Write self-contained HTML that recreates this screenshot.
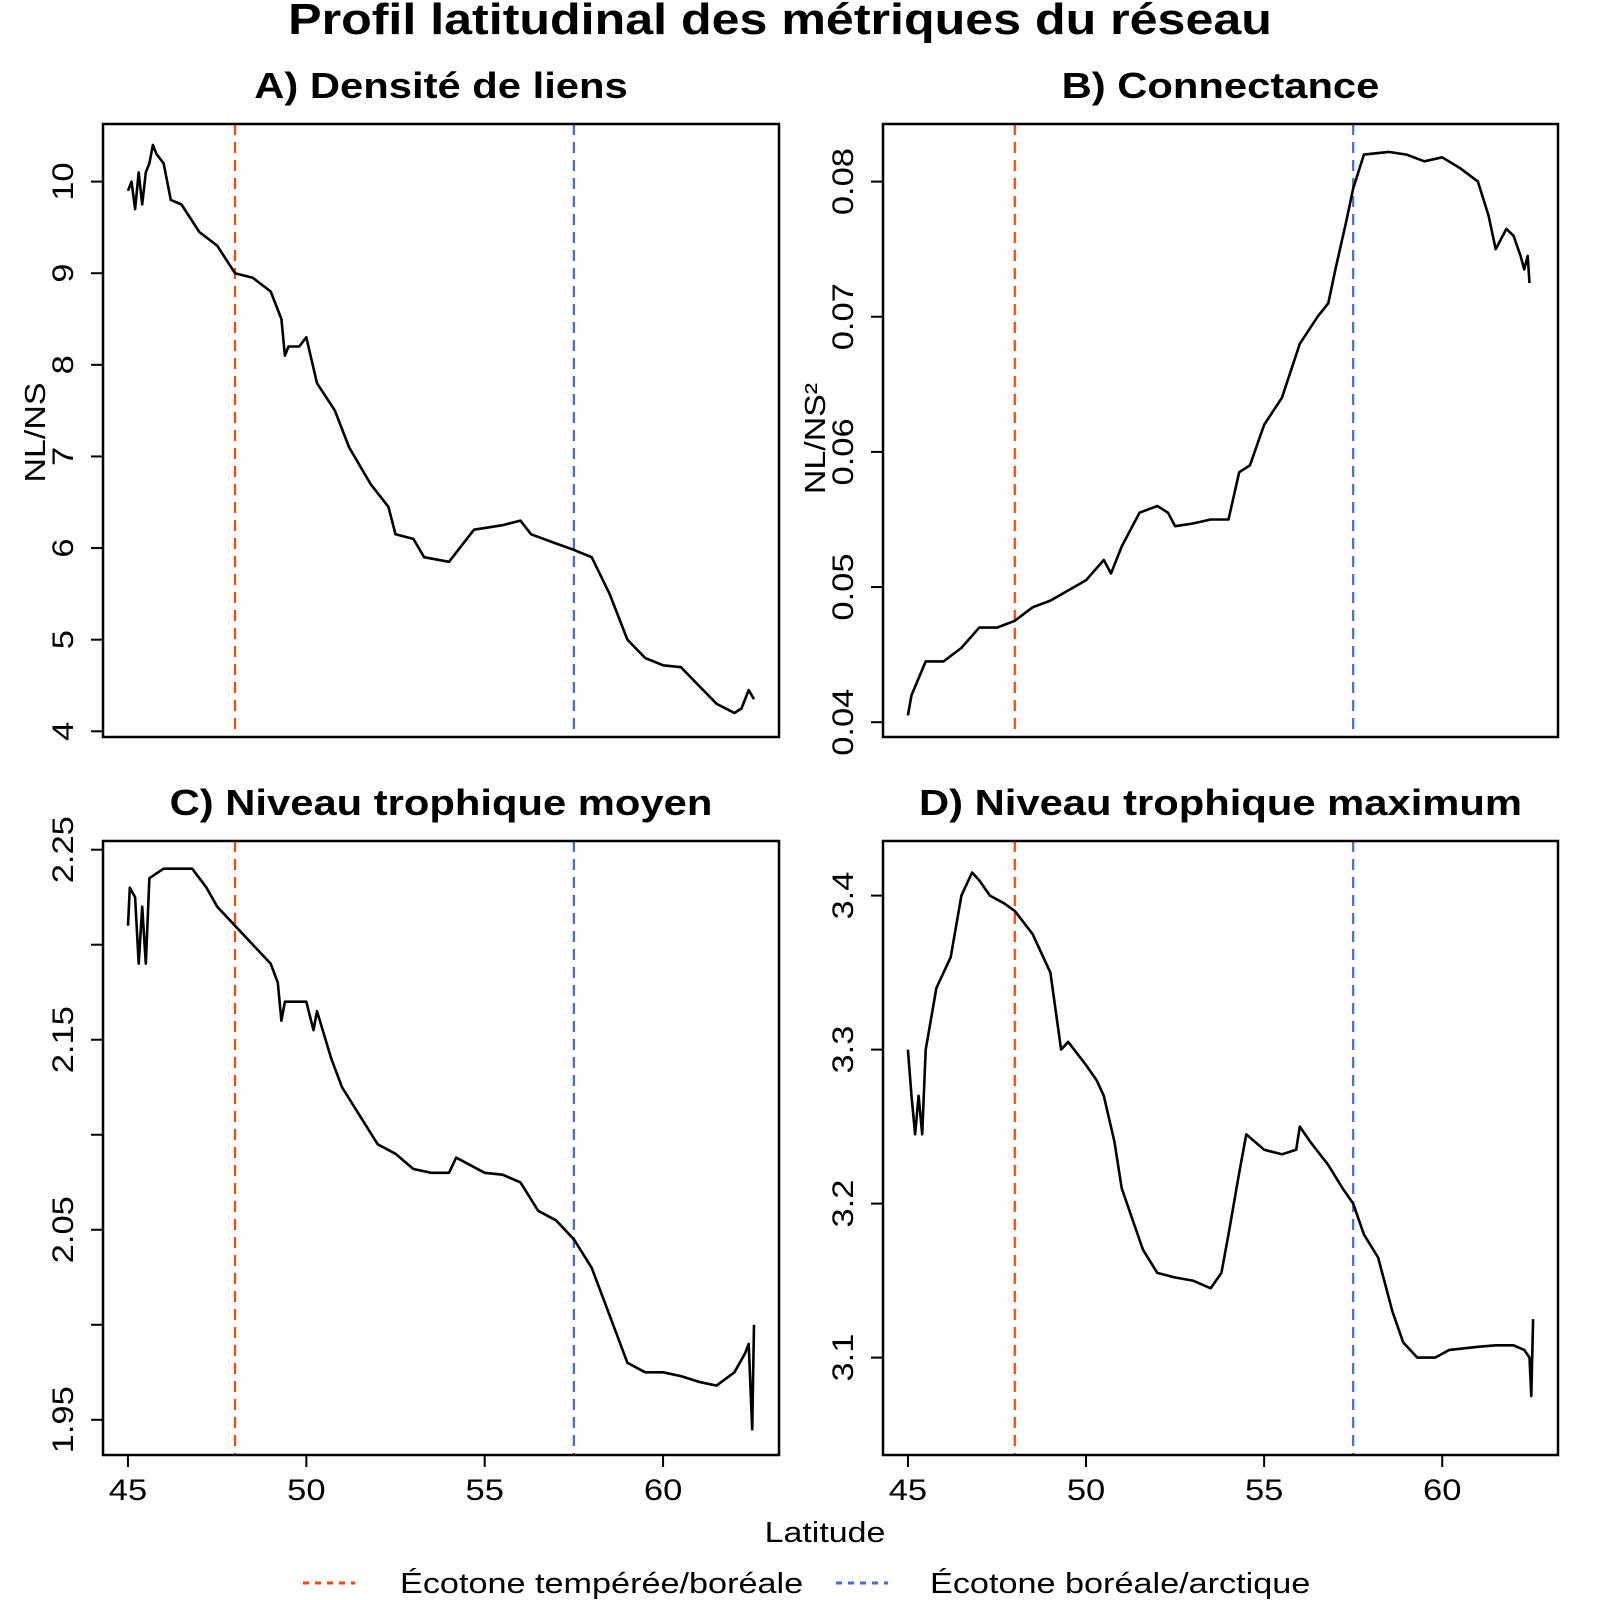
<!DOCTYPE html>
<html><head><meta charset="utf-8"><style>
body{margin:0;background:#fff}
svg{display:block;font-family:"Liberation Sans",Arial,sans-serif}
</style></head><body>
<svg id="c" width="1600" height="1600" viewBox="0 0 1600 1600">
<text x="0" y="0" transform="translate(780,34) scale(1.14,1)" text-anchor="middle" font-size="44" font-weight="bold">Profil latitudinal des métriques du réseau</text>
<text x="0" y="0" transform="translate(825,1542) scale(1.17,1)" text-anchor="middle" font-size="29">Latitude</text>
<g>
<line x1="303" y1="1583" x2="355" y2="1583" stroke="#FF4500" stroke-width="3" stroke-dasharray="6,6"/>
<text x="0" y="0" transform="translate(400,1593) scale(1.18,1)" font-size="29">Écotone tempérée/boréale</text>
<line x1="836" y1="1583" x2="888" y2="1583" stroke="#4169E1" stroke-width="3" stroke-dasharray="6,6"/>
<text x="0" y="0" transform="translate(930,1593) scale(1.18,1)" font-size="29">Écotone boréale/arctique</text>
</g>
</svg>
<script>
const latA=[45.0,45.1,45.2,45.3,45.4,45.5,45.6,45.7,45.8,46.0,46.2,46.5,47.0,47.5,48.0,48.5,49.0,49.3,49.4,49.5,49.8,50.0,50.3,50.8,51.2,51.8,52.3,52.5,53.0,53.3,54.0,54.3,54.7,55.5,56.0,56.3,57.0,57.5,58.0,58.5,59.0,59.5,60.0,60.5,61.0,61.5,62.0,62.2,62.4,62.55];
const valA=[9.9,10.0,9.7,10.1,9.75,10.1,10.2,10.4,10.3,10.2,9.8,9.75,9.45,9.3,9.0,8.95,8.8,8.5,8.1,8.2,8.2,8.3,7.8,7.5,7.1,6.7,6.45,6.15,6.1,5.9,5.85,6.0,6.2,6.25,6.3,6.15,6.05,5.98,5.9,5.5,5.0,4.8,4.72,4.7,4.5,4.3,4.2,4.25,4.45,4.35];
const latB=[45.0,45.1,45.5,46.0,46.5,47.0,47.5,48.0,48.5,49.0,50.0,50.5,50.7,51.0,51.5,52.0,52.3,52.5,53.0,53.5,54.0,54.3,54.6,55.0,55.5,56.0,56.5,56.8,57.0,57.3,57.5,57.8,58.5,59.0,59.5,60.0,60.5,61.0,61.3,61.5,61.8,62.0,62.2,62.3,62.4,62.45];
const valB=[0.0405,0.042,0.0445,0.0445,0.0455,0.047,0.047,0.0475,0.0485,0.049,0.0505,0.052,0.051,0.053,0.0555,0.056,0.0555,0.0545,0.0547,0.055,0.055,0.0585,0.059,0.062,0.064,0.068,0.070,0.071,0.0735,0.077,0.0795,0.082,0.0822,0.082,0.0815,0.0818,0.081,0.080,0.0775,0.075,0.0765,0.076,0.0745,0.0735,0.0745,0.0725];
const latC=[45.0,45.05,45.2,45.3,45.4,45.5,45.6,46.0,46.5,46.8,47.2,47.5,48.0,48.5,49.0,49.2,49.3,49.4,50.0,50.2,50.3,50.7,51.0,51.5,52.0,52.5,53.0,53.5,54.0,54.2,54.5,55.0,55.5,56.0,56.5,57.0,57.5,58.0,58.5,59.0,59.5,60.0,60.5,61.0,61.5,62.0,62.3,62.4,62.5,62.55];
const valC=[2.21,2.23,2.225,2.19,2.22,2.19,2.235,2.24,2.24,2.24,2.23,2.22,2.21,2.20,2.19,2.18,2.16,2.17,2.17,2.155,2.165,2.14,2.125,2.11,2.095,2.09,2.082,2.08,2.08,2.088,2.085,2.08,2.079,2.075,2.06,2.055,2.045,2.03,2.005,1.98,1.975,1.975,1.973,1.97,1.968,1.975,1.985,1.99,1.945,2.0];
const latD=[45.0,45.1,45.2,45.3,45.4,45.5,45.8,46.2,46.5,46.8,47.0,47.3,47.7,48.0,48.5,49.0,49.3,49.5,50.0,50.3,50.5,50.8,51.0,51.3,51.6,52.0,52.5,53.0,53.5,53.8,54.0,54.3,54.5,55.0,55.5,55.9,56.0,56.3,56.8,57.2,57.5,57.8,58.2,58.6,58.9,59.3,59.8,60.2,61.0,61.5,62.0,62.3,62.45,62.5,62.55];
const valD=[3.30,3.27,3.245,3.27,3.245,3.30,3.34,3.36,3.40,3.415,3.41,3.40,3.395,3.39,3.375,3.35,3.30,3.305,3.29,3.28,3.27,3.24,3.21,3.19,3.17,3.155,3.152,3.15,3.145,3.155,3.18,3.22,3.245,3.235,3.232,3.235,3.25,3.24,3.225,3.21,3.20,3.18,3.165,3.13,3.11,3.10,3.10,3.105,3.107,3.108,3.108,3.105,3.10,3.075,3.125];
const xTicks=[45,50,55,60];
const ecotones=[48,57.5];
const ticksA=[4,5,6,7,8,9,10];
const ticksB=[0.04,0.05,0.06,0.07,0.08];
const ticksC=[1.95,2.0,2.05,2.1,2.15,2.2,2.25];
const labelsC=["1.95","","2.05","","2.15","","2.25"];
const ticksD=[3.1,3.2,3.3,3.4];

const NS="http://www.w3.org/2000/svg";
const svg=document.getElementById('c');
function mk(tag,attrs,parent){const e=document.createElementNS(NS,tag);for(const k in attrs)e.setAttribute(k,attrs[k]);(parent||svg).appendChild(e);return e;}

function panel(p){
  const g=mk('g',{});
  
  
  const xs=v=>p.x0+(v-44.3)/(63.25-44.3)*(p.x1-p.x0);
  const ys=v=>p.ya+(v-p.va)/(p.vb-p.va)*(p.yb-p.ya);
  const t=mk('text',{x:0,y:0,transform:`translate(${(p.x0+p.x1)/2},${p.y0-26}) scale(1.16,1)`,'text-anchor':'middle','font-size':36,'font-weight':'bold'},g);
  t.textContent=p.title;
  
  
  ecotones.forEach((e,i)=>{
    const l=mk('line',{x1:xs(e),x2:xs(e),y1:p.y0,y2:p.y1,stroke:i?'#4169E1':'#FF4500','stroke-width':2.2,'stroke-dasharray':'11,7'},g);
    
    
  });
  const d=p.lat.map((v,i)=>(i?'L':'M')+xs(v).toFixed(1)+','+ys(p.val[i]).toFixed(1)).join('');
  const path=mk('path',{d:d,fill:'none',stroke:'#000','stroke-width':2.6,'stroke-linejoin':'round'},g);
  
  
  const box=mk('rect',{x:p.x0,y:p.y0,width:p.x1-p.x0,height:p.y1-p.y0,fill:'none',stroke:'#000','stroke-width':2.5},g);
  
  
  p.ticks.forEach((tv,i)=>{
    const y=ys(tv);
    const tk=mk('line',{x1:p.x0-12,x2:p.x0,y1:y,y2:y,stroke:'#000','stroke-width':2},g);
    
    
    const lab=p.labels?p.labels[i]:String(tv);
    if(lab){
      const tx=mk('text',{x:0,y:0,'text-anchor':'middle','font-size':30,transform:`translate(${p.x0-30},${y}) rotate(-90) scale(1.15,1)`},g);
      tx.textContent=lab;
      
      
    }
  });
  if(p.ylab){
    const yl=mk('text',{x:0,y:0,'text-anchor':'middle','font-size':29,transform:`translate(${p.x0-58},${(p.y0+p.y1)/2+p.yoff}) rotate(-90) scale(1.17,1)`},g);
    yl.textContent=p.ylab;
    
    
  }
  if(p.xaxis){
    xTicks.forEach(v=>{
      const tk=mk('line',{x1:xs(v),x2:xs(v),y1:p.y1,y2:p.y1+12,stroke:'#000','stroke-width':2},g);
      
      
      const tx=mk('text',{x:0,y:0,transform:`translate(${xs(v)},${p.y1+45}) scale(1.15,1)`,'text-anchor':'middle','font-size':30},g);
      tx.textContent=v;
      
      
    });
  }
}
panel({name:'panel-a-link-density',title:'A) Densité de liens',x0:103,x1:779,y0:124,y1:737,lat:latA,val:valA,va:10,ya:181.6,vb:4,yb:731.3,ticks:ticksA,ylab:'NL/NS',yoff:2});
panel({name:'panel-b-connectance',title:'B) Connectance',x0:883,x1:1558,y0:124,y1:737,lat:latB,val:valB,va:0.08,ya:181.6,vb:0.04,yb:722.2,ticks:ticksB,ylab:'NL/NS²',yoff:8});
panel({name:'panel-c-mean-trophic-level',title:'C) Niveau trophique moyen',x0:103,x1:779,y0:841,y1:1455,lat:latC,val:valC,va:2.25,ya:849.7,vb:1.95,yb:1419.8,ticks:ticksC,labels:labelsC,xaxis:true});
panel({name:'panel-d-max-trophic-level',title:'D) Niveau trophique maximum',x0:883,x1:1558,y0:841,y1:1455,lat:latD,val:valD,va:3.4,ya:895.6,vb:3.1,yb:1357.6,ticks:ticksD,xaxis:true});
</script>
</body></html>
